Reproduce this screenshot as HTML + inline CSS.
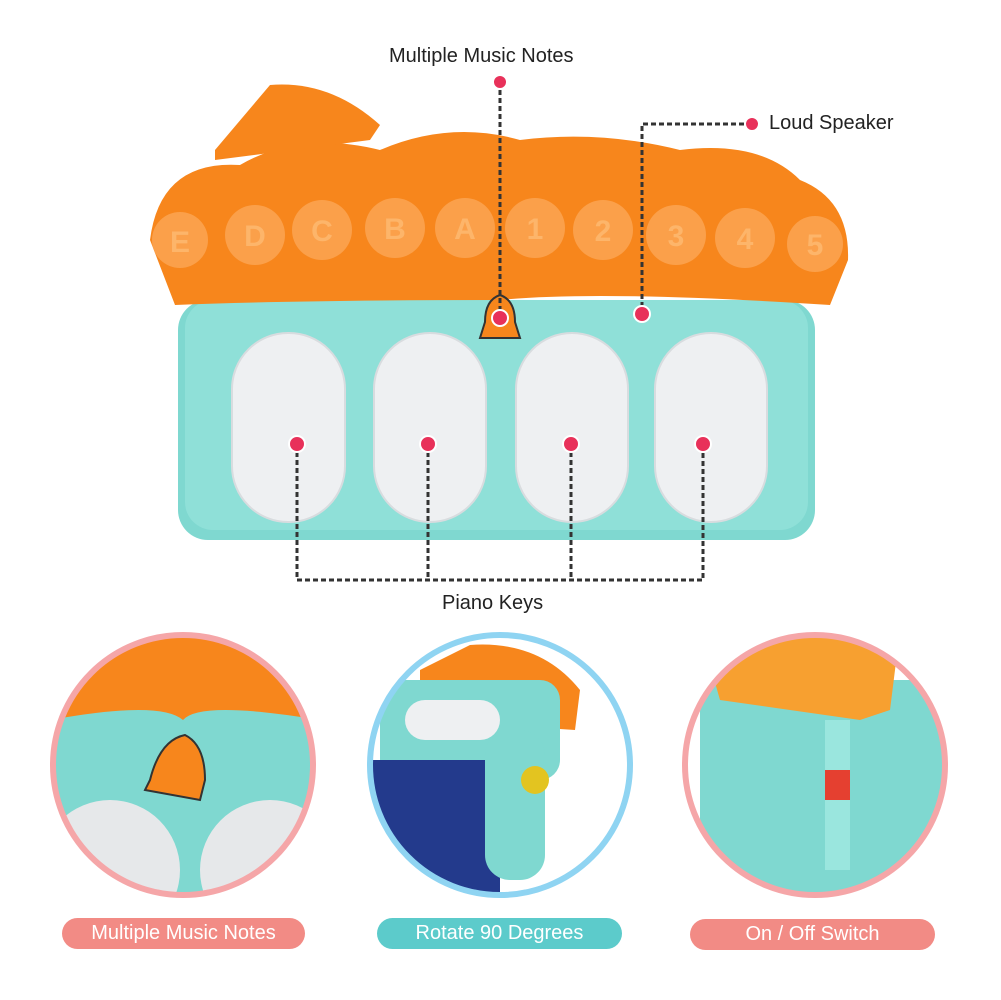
<!DOCTYPE html>
<html><head><meta charset="utf-8"><style>
html,body{margin:0;padding:0;background:#fff;}
body{width:1001px;height:1000px;position:relative;overflow:hidden;font-family:"Liberation Sans",sans-serif;}
.t{position:absolute;font-size:20px;color:#222;white-space:nowrap;}
.pill{position:absolute;height:31px;border-radius:16px;color:#fff;font-size:20px;text-align:center;line-height:31px;}
</style></head><body>
<svg width="1001" height="1000" style="position:absolute;left:0;top:0">
<rect x="178" y="300" width="637" height="240" rx="30" fill="#7fd8d0"/>
<rect x="185" y="300" width="623" height="230" rx="28" fill="#8fe0d8"/>
<path d="M150 240 Q160 160 240 165 Q300 130 380 150 Q450 120 520 140 Q600 130 680 150 Q760 140 800 180 Q850 200 848 260 L830 305 Q600 290 500 300 Q300 300 175 305 Z" fill="#f7861c"/>
<path d="M215 150 L270 85 Q330 80 380 125 L370 140 L215 160 Z" fill="#f7861c"/>
<g fill="#fba04a">
<circle cx="180" cy="240" r="28"/><circle cx="255" cy="235" r="30"/><circle cx="322" cy="230" r="30"/><circle cx="395" cy="228" r="30"/><circle cx="465" cy="228" r="30"/><circle cx="535" cy="228" r="30"/><circle cx="603" cy="230" r="30"/><circle cx="676" cy="235" r="30"/><circle cx="745" cy="238" r="30"/><circle cx="815" cy="244" r="28"/>
</g>
<g fill="#fdb56a" font-family="Liberation Sans" font-size="30" font-weight="bold" text-anchor="middle">
<text x="180" y="252">E</text><text x="255" y="246">D</text><text x="322" y="241">C</text><text x="395" y="239">B</text><text x="465" y="239">A</text><text x="535" y="239">1</text><text x="603" y="241">2</text><text x="676" y="246">3</text><text x="745" y="249">4</text><text x="815" y="255">5</text>
</g>
<g fill="#eef0f2" stroke="#d8dcdf" stroke-width="2">
<rect x="232" y="333" width="113" height="189" rx="56"/>
<rect x="374" y="333" width="112" height="189" rx="56"/>
<rect x="516" y="333" width="112" height="189" rx="56"/>
<rect x="655" y="333" width="112" height="189" rx="56"/>
</g>
<path d="M485 322 Q485 300 500 295 Q515 300 515 322 L520 338 L480 338 Z" fill="#f7861c" stroke="#333" stroke-width="2"/>
<g stroke="#333" stroke-width="3" stroke-dasharray="5,3" fill="none">
<line x1="500" y1="82" x2="500" y2="318"/>
<polyline points="752,124 642,124 642,314"/>
<polyline points="297,444 297,580 703,580 703,444"/>
<line x1="428" y1="444" x2="428" y2="580"/>
<line x1="571" y1="444" x2="571" y2="580"/>
</g>
<g fill="#e8315a" stroke="#fff" stroke-width="2">
<circle cx="500" cy="82" r="7"/><circle cx="500" cy="318" r="8"/><circle cx="752" cy="124" r="7"/><circle cx="642" cy="314" r="8"/>
<circle cx="297" cy="444" r="8"/><circle cx="428" cy="444" r="8"/><circle cx="571" cy="444" r="8"/><circle cx="703" cy="444" r="8"/>
</g>
<defs>
<clipPath id="c1"><circle cx="183" cy="765" r="128"/></clipPath>
<clipPath id="c2"><circle cx="500" cy="765" r="128"/></clipPath>
<clipPath id="c3"><circle cx="815" cy="765" r="128"/></clipPath>
</defs>
<g clip-path="url(#c1)">
<rect x="50" y="630" width="270" height="270" fill="#7fd8d0"/>
<path d="M50 630 H320 V720 Q200 700 183 720 Q160 700 50 720 Z" fill="#f7861c"/>
<circle cx="110" cy="870" r="70" fill="#e6e8ea"/><circle cx="270" cy="870" r="70" fill="#e6e8ea"/>
<path d="M150 780 Q160 740 185 735 Q205 745 205 780 L200 800 L145 790 Z" fill="#f7861c" stroke="#333" stroke-width="2"/>
</g>
<g clip-path="url(#c2)">
<rect x="370" y="630" width="270" height="270" fill="#fff"/>
<path d="M420 670 L470 645 Q540 640 580 690 L575 730 L420 720 Z" fill="#f7861c"/>
<rect x="380" y="680" width="180" height="100" rx="20" fill="#7fd8d0"/>
<rect x="405" y="700" width="95" height="40" rx="20" fill="#eef0f2"/>
<rect x="370" y="760" width="130" height="140" fill="#233a8c"/>
<rect x="485" y="730" width="60" height="150" rx="25" fill="#7fd8d0"/>
<circle cx="535" cy="780" r="14" fill="#e3c420"/>
</g>
<g clip-path="url(#c3)">
<rect x="685" y="630" width="270" height="270" fill="#fff"/>
<path d="M700 680 H950 V900 H700 Z" fill="#7fd8d0"/>
<path d="M700 630 H900 L890 710 L860 720 L720 700 Z" fill="#f7a030"/>
<rect x="825" y="720" width="25" height="150" fill="#9ae6de"/>
<rect x="825" y="770" width="25" height="30" fill="#e54030"/>
</g>
<circle cx="183" cy="765" r="130" fill="none" stroke="#f5a6a8" stroke-width="6"/>
<circle cx="500" cy="765" r="130" fill="none" stroke="#8fd4f2" stroke-width="6"/>
<circle cx="815" cy="765" r="130" fill="none" stroke="#f5a6a8" stroke-width="6"/>
</svg>
<div class="t" style="left:389px;top:45px">Multiple Music Notes</div>
<div class="t" style="left:769px;top:112px">Loud Speaker</div>
<div class="t" style="left:442px;top:592px">Piano Keys</div>
<div class="pill" style="left:62px;top:918px;width:243px;background:#f28b85">Multiple Music Notes</div>
<div class="pill" style="left:377px;top:918px;width:245px;background:#5ccbcb">Rotate 90 Degrees</div>
<div class="pill" style="left:690px;top:919px;width:245px;background:#f28b85">On / Off Switch</div>
</body></html>
